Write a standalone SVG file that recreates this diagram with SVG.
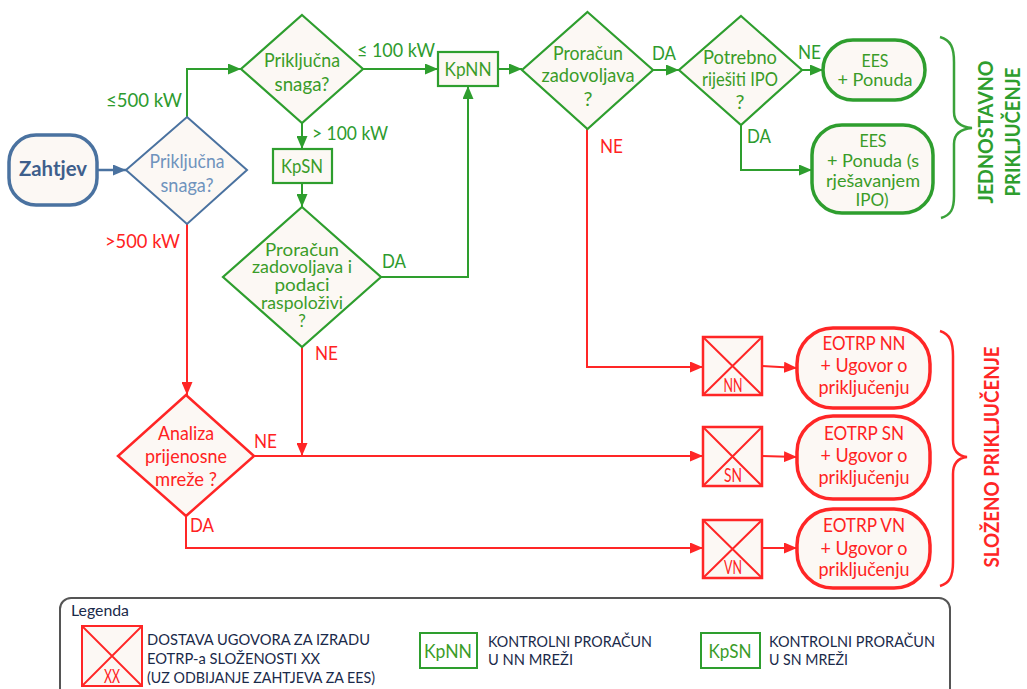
<svg xmlns="http://www.w3.org/2000/svg" width="1027" height="689" viewBox="0 0 1027 689">
<defs>
<style>
text{font-family:Lato,"Liberation Sans",sans-serif;font-size:20px}
.c{text-anchor:middle}
.g{fill:#3a9c28}
.gl{fill:#2e9b2e}
.r{fill:#ff2222}
.b{fill:#6f93bd}
.node{fill:#fcf8f4}
.gs{stroke:#2e9e2e;stroke-width:2.2}
.gs2{stroke:#2e9e2e;stroke-width:3.5}
.rs{stroke:#ff2626;stroke-width:2.5}
.rs2{stroke:#ff2626;stroke-width:3.5}
.bs{stroke:#4a72a0;stroke-width:2}
.cg{fill:none;stroke:#2e9e2e;stroke-width:2;marker-end:url(#ag)}
.cr{fill:none;stroke:#ff2626;stroke-width:2;marker-end:url(#ar)}
.cb{fill:none;stroke:#4a72a0;stroke-width:2.5;marker-end:url(#ab)}
.leg{font-size:16px;fill:#1a2a4a}
.d3{font-size:17px}
.sm{font-size:18px}
</style>
<marker id="ag" markerUnits="userSpaceOnUse" markerWidth="13" markerHeight="11" refX="13" refY="5.5" orient="auto"><path d="M0,0 L13,5.5 L0,11 z" fill="#2e9e2e"/></marker>
<marker id="ar" markerUnits="userSpaceOnUse" markerWidth="13" markerHeight="11" refX="13" refY="5.5" orient="auto"><path d="M0,0 L13,5.5 L0,11 z" fill="#ff2626"/></marker>
<marker id="ab" markerUnits="userSpaceOnUse" markerWidth="13" markerHeight="11" refX="13" refY="5.5" orient="auto"><path d="M0,0 L13,5.5 L0,11 z" fill="#4a72a0"/></marker>
</defs>

<g id="connectors">
<path class="cb" d="M97,170 L126,170"/>
<path class="cg" d="M187,117 L187,69 L241,69"/>
<path class="cg" d="M363,69 L438,69"/>
<path class="cg" d="M498,69 L522,69"/>
<path class="cg" d="M302,123 L302,149"/>
<path class="cg" d="M302,183 L302,207"/>
<path class="cg" d="M381,277 L468,277 L468,86"/>
<path class="cg" d="M653,70 L679,70"/>
<path class="cg" d="M802,70 L823,70"/>
<path class="cg" d="M741,125 L741,170 L812,170"/>
<path class="cr" d="M187,224 L187,395"/>
<path class="cr" d="M302,347 L302,456"/>
<path class="cr" d="M254,456 L703,456"/>
<path class="cr" d="M186,516 L186,548 L703,548"/>
<path class="cr" d="M587,129 L587,367 L703,367"/>
<path class="cr" d="M762,366 L797,368"/>
<path class="cr" d="M762,456 L797,457"/>
<path class="cr" d="M762,548 L797,548"/>
<text class="gl" x="106" y="107" textLength="76" lengthAdjust="spacingAndGlyphs">≤500 kW</text>
<text class="r" x="105" y="248" textLength="75" lengthAdjust="spacingAndGlyphs">&gt;500 kW</text>
<text class="gl" x="357" y="57" textLength="78" lengthAdjust="spacingAndGlyphs">≤ 100 kW</text>
<text class="gl" x="312" y="140" textLength="76" lengthAdjust="spacingAndGlyphs">&gt; 100 kW</text>
<text class="gl" x="382" y="268" textLength="24" lengthAdjust="spacingAndGlyphs">DA</text>
<text class="r" x="315" y="360" textLength="23" lengthAdjust="spacingAndGlyphs">NE</text>
<text class="r" x="254" y="448" textLength="23" lengthAdjust="spacingAndGlyphs">NE</text>
<text class="r" x="190" y="532" textLength="24" lengthAdjust="spacingAndGlyphs">DA</text>
<text class="gl" x="652" y="60" textLength="24" lengthAdjust="spacingAndGlyphs">DA</text>
<text class="gl" x="798" y="59" textLength="23" lengthAdjust="spacingAndGlyphs">NE</text>
<text class="gl" x="747" y="143" textLength="24" lengthAdjust="spacingAndGlyphs">DA</text>
<text class="r" x="600" y="153" textLength="23" lengthAdjust="spacingAndGlyphs">NE</text>
</g>

<g id="zahtjev">
<rect x="9" y="135" width="88" height="70" rx="27" class="node" stroke="#4a72a0" stroke-width="3.5"/>
<text class="c" x="53" y="176" font-weight="bold" fill="#3e5f8c" textLength="68" lengthAdjust="spacingAndGlyphs">Zahtjev</text>
</g>

<g id="d1">
<path d="M187,117 L247,170 L187,224 L126,170 z" class="node bs"/>
<text class="c b" x="187" y="168" textLength="75" lengthAdjust="spacingAndGlyphs">Priključna</text>
<text class="c b" x="187" y="192" textLength="53" lengthAdjust="spacingAndGlyphs">snaga?</text>
</g>

<g id="d2">
<path d="M302,15 L363,69 L302,123 L241,69 z" class="node gs"/>
<text class="c g" x="302" y="67" textLength="76" lengthAdjust="spacingAndGlyphs">Priključna</text>
<text class="c g" x="302" y="91" textLength="55" lengthAdjust="spacingAndGlyphs">snaga?</text>
</g>

<g id="kpnn">
<rect x="438" y="52" width="60" height="34" class="node gs"/>
<text class="c g" x="468" y="76" textLength="47" lengthAdjust="spacingAndGlyphs">KpNN</text>
</g>

<g id="kpsn">
<rect x="273" y="149" width="59" height="34" class="node gs"/>
<text class="c g" x="302" y="173" textLength="42" lengthAdjust="spacingAndGlyphs">KpSN</text>
</g>

<g id="d3">
<path d="M302,207 L381,277 L302,347 L223,277 z" class="node gs"/>
<text class="c g d3" x="302" y="256" textLength="74" lengthAdjust="spacingAndGlyphs">Proračun</text>
<text class="c g d3" x="302" y="273" textLength="100" lengthAdjust="spacingAndGlyphs">zadovoljava i</text>
<text class="c g d3" x="302" y="291" textLength="55" lengthAdjust="spacingAndGlyphs">podaci</text>
<text class="c g d3" x="302" y="309" textLength="82" lengthAdjust="spacingAndGlyphs">raspoloživi</text>
<text class="c g d3" x="302" y="327">?</text>
</g>

<g id="d4">
<path d="M587.5,12 L653,70 L587.5,129 L522,70 z" class="node gs"/>
<text class="c g" x="588" y="60" textLength="70" lengthAdjust="spacingAndGlyphs">Proračun</text>
<text class="c g" x="588" y="82" textLength="93" lengthAdjust="spacingAndGlyphs">zadovoljava</text>
<text class="c g" x="588" y="106">?</text>
</g>

<g id="d5">
<path d="M741,16 L802,70 L741,125 L679,70 z" class="node gs"/>
<text class="c g" x="740" y="64" textLength="74" lengthAdjust="spacingAndGlyphs">Potrebno</text>
<text class="c g" x="740" y="86" textLength="76" lengthAdjust="spacingAndGlyphs">riješiti IPO</text>
<text class="c g" x="740" y="109">?</text>
</g>

<g id="ees1">
<rect x="823" y="40" width="102" height="60" rx="30" class="node gs2"/>
<text class="c g sm" x="875" y="67" textLength="27" lengthAdjust="spacingAndGlyphs">EES</text>
<text class="c g sm" x="875" y="86" textLength="75" lengthAdjust="spacingAndGlyphs">+ Ponuda</text>
</g>

<g id="ees2">
<rect x="812" y="125" width="121" height="88" rx="30" class="node gs2"/>
<text class="c g sm" x="873" y="147" textLength="27" lengthAdjust="spacingAndGlyphs">EES</text>
<text class="c g sm" x="873" y="167" textLength="92" lengthAdjust="spacingAndGlyphs">+ Ponuda (s</text>
<text class="c g sm" x="873" y="187" textLength="94" lengthAdjust="spacingAndGlyphs">rješavanjem</text>
<text class="c g sm" x="872" y="206" textLength="33" lengthAdjust="spacingAndGlyphs">IPO)</text>
</g>

<g id="brace-jednostavno">
<path d="M940,37 C951,40 954,48 954,62 L954,112 C954,122 960,127 972,128 C960,129 954,134 954,144 L954,196 C954,209 951,215 941,218" fill="none" stroke="#3aa23a" stroke-width="2.5"/>
<text class="c" x="0" y="0" transform="translate(993,132) rotate(-90)" font-weight="bold" fill="#2e9e2e" textLength="143" lengthAdjust="spacingAndGlyphs">JEDNOSTAVNO</text>
<text class="c" x="0" y="0" transform="translate(1020,132) rotate(-90)" font-weight="bold" fill="#2e9e2e" textLength="129" lengthAdjust="spacingAndGlyphs">PRIKLJUČENJE</text>
</g>

<g id="d6">
<path d="M186,395 L254,456 L186,516 L118,456 z" class="node rs" stroke-width="2"/>
<text class="c r" x="186" y="440" textLength="56" lengthAdjust="spacingAndGlyphs">Analiza</text>
<text class="c r" x="186" y="463" textLength="82" lengthAdjust="spacingAndGlyphs">prijenosne</text>
<text class="c r" x="186" y="486" textLength="62" lengthAdjust="spacingAndGlyphs">mreže ?</text>
</g>

<g id="xnn">
<rect x="703" y="337" width="59" height="58" class="node rs"/>
<path d="M703,337 L762,395 M762,337 L703,395" stroke="#ff2626" stroke-width="2"/>
<text class="c r" x="733" y="392" font-size="13" textLength="19" lengthAdjust="spacingAndGlyphs">NN</text>
</g>
<g id="xsn">
<rect x="703" y="427" width="59" height="59" class="node rs"/>
<path d="M703,427 L762,486 M762,427 L703,486" stroke="#ff2626" stroke-width="2"/>
<text class="c r" x="733" y="482" font-size="13" textLength="18" lengthAdjust="spacingAndGlyphs">SN</text>
</g>
<g id="xvn">
<rect x="703" y="520" width="59" height="58" class="node rs"/>
<path d="M703,520 L762,578 M762,520 L703,578" stroke="#ff2626" stroke-width="2"/>
<text class="c r" x="733" y="574" font-size="13" textLength="18" lengthAdjust="spacingAndGlyphs">VN</text>
</g>

<g id="eotrp-nn">
<rect x="797" y="328" width="133" height="80" rx="36" class="node rs2"/>
<text class="c r" x="864" y="350" textLength="83" lengthAdjust="spacingAndGlyphs">EOTRP NN</text>
<text class="c r" x="864" y="372" textLength="87" lengthAdjust="spacingAndGlyphs">+ Ugovor o</text>
<text class="c r" x="864" y="394" textLength="91" lengthAdjust="spacingAndGlyphs">priključenju</text>
</g>
<g id="eotrp-sn">
<rect x="797" y="416" width="133" height="83" rx="36" class="node rs2"/>
<text class="c r" x="864" y="440" textLength="80" lengthAdjust="spacingAndGlyphs">EOTRP SN</text>
<text class="c r" x="864" y="462" textLength="87" lengthAdjust="spacingAndGlyphs">+ Ugovor o</text>
<text class="c r" x="864" y="484" textLength="91" lengthAdjust="spacingAndGlyphs">priključenju</text>
</g>
<g id="eotrp-vn">
<rect x="797" y="509" width="133" height="79" rx="36" class="node rs2"/>
<text class="c r" x="864" y="532" textLength="82" lengthAdjust="spacingAndGlyphs">EOTRP VN</text>
<text class="c r" x="864" y="555" textLength="87" lengthAdjust="spacingAndGlyphs">+ Ugovor o</text>
<text class="c r" x="864" y="576" textLength="91" lengthAdjust="spacingAndGlyphs">priključenju</text>
</g>

<g id="brace-slozeno">
<path d="M940,331 C950,334 953,342 953,356 L953,440 C953,450 958,456 967,457 C958,458 953,464 953,474 L953,562 C953,576 950,583 940,586" fill="none" stroke="#ff2626" stroke-width="2.5"/>
<text class="c" x="0" y="0" transform="translate(999,457) rotate(-90)" font-weight="bold" fill="#ff2626" textLength="221" lengthAdjust="spacingAndGlyphs">SLOŽENO PRIKLJUČENJE</text>
</g>

<g id="legend">
<rect x="60" y="598" width="890" height="110" rx="11" fill="#ffffff" stroke="#555555" stroke-width="2"/>
<text class="leg" x="71" y="616" font-size="15" textLength="58" lengthAdjust="spacingAndGlyphs">Legenda</text>
<rect x="82" y="626" width="60" height="60" class="node" stroke="#ff2626" stroke-width="2"/>
<path d="M82,626 L142,686 M142,626 L82,686" stroke="#ff2626" stroke-width="1.8"/>
<text class="c r" x="112" y="683" font-size="13" textLength="16" lengthAdjust="spacingAndGlyphs">XX</text>
<text class="leg" x="147" y="645" textLength="223" lengthAdjust="spacingAndGlyphs">DOSTAVA UGOVORA ZA IZRADU</text>
<text class="leg" x="147" y="664" textLength="173" lengthAdjust="spacingAndGlyphs">EOTRP-a  SLOŽENOSTI XX</text>
<text class="leg" x="147" y="683" textLength="228" lengthAdjust="spacingAndGlyphs">(UZ ODBIJANJE ZAHTJEVA ZA EES)</text>
<rect x="420" y="633" width="57" height="35" fill="#ffffff" stroke="#2e9e2e" stroke-width="2"/>
<text class="c g" x="448" y="658" textLength="48" lengthAdjust="spacingAndGlyphs">KpNN</text>
<text class="leg" x="488" y="647" textLength="164" lengthAdjust="spacingAndGlyphs">KONTROLNI PRORAČUN</text>
<text class="leg" x="488" y="665" textLength="85" lengthAdjust="spacingAndGlyphs">U  NN MREŽI</text>
<rect x="701" y="633" width="59" height="35" fill="#ffffff" stroke="#2e9e2e" stroke-width="2"/>
<text class="c g" x="730" y="658" textLength="43" lengthAdjust="spacingAndGlyphs">KpSN</text>
<text class="leg" x="769" y="647" textLength="166" lengthAdjust="spacingAndGlyphs">KONTROLNI PRORAČUN</text>
<text class="leg" x="769" y="665" textLength="79" lengthAdjust="spacingAndGlyphs">U SN MREŽI</text>
</g>
</svg>
